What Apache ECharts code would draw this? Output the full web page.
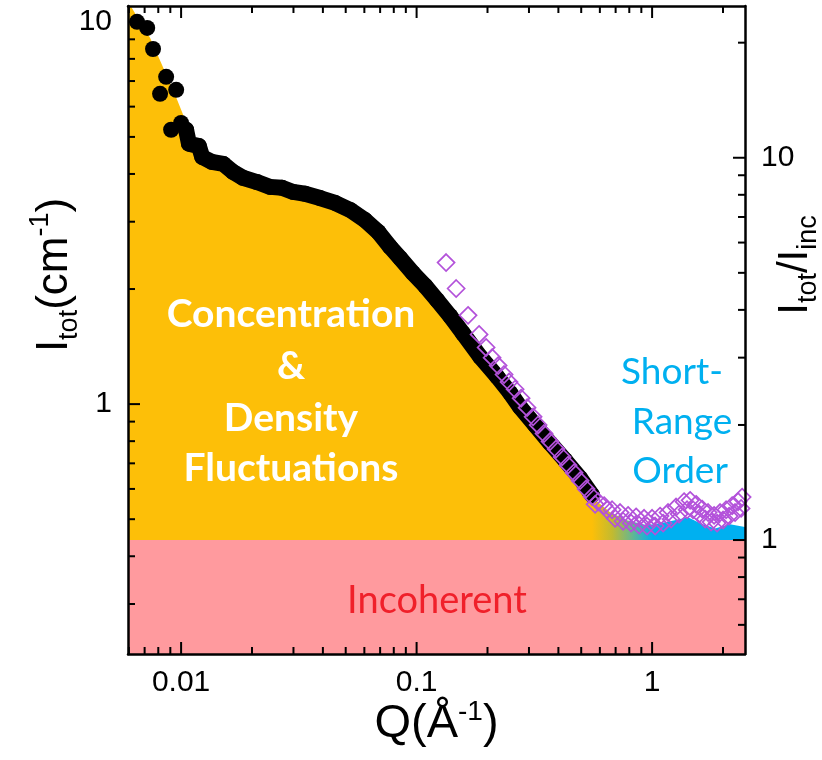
<!DOCTYPE html>
<html><head><meta charset="utf-8">
<script src="https://cdn.jsdelivr.net/npm/echarts@6/dist/echarts.min.js"></script>
<style>html,body{margin:0;padding:0;background:#fff}#c{width:822px;height:760px}</style>
</head><body><div id="c"></div>
<script>
// ---- data ----
const qTot = [0.0065,0.00718,0.0076,0.00814,0.00864,0.00907,0.00953,0.0100,0.0105,0.0108,0.0119,0.0123,0.0135,0.0151,0.0166,0.0183,0.0210,0.0239,0.0268,0.0299,0.0336,0.0389,0.0451,0.0522,0.0604,0.0687,0.0771,0.0851,0.0966,0.1086,0.1222,0.1387,0.1575,0.1862,0.2198,0.2494,0.2750,0.3186,0.3687,0.4273,0.4946,0.556];
const iTot = [10.0,9.64,8.49,6.48,7.18,5.22,6.64,5.44,5.22,4.80,4.73,4.43,4.30,4.25,4.05,3.91,3.81,3.70,3.68,3.59,3.55,3.46,3.36,3.22,3.03,2.82,2.58,2.41,2.20,2.04,1.87,1.70,1.53,1.33,1.18,1.07,0.982,0.881,0.791,0.713,0.640,0.578];

const qFill = [0.00595,0.00670,0.00738,0.00830,0.00944,0.0102,0.0109,0.0120,0.0140,0.0178,0.0239,0.0320,0.0451,0.0604,0.0771,0.122,0.186,0.275,0.427,0.556,0.663,0.783,0.952,1.08,1.25,1.42,1.60,1.85,2.14,2.48];
const iFill = [11.3,10.0,9.08,7.71,6.44,5.71,5.06,4.62,4.30,3.95,3.70,3.57,3.36,3.03,2.58,1.87,1.33,0.982,0.713,0.571,0.521,0.497,0.482,0.488,0.497,0.506,0.488,0.473,0.485,0.477];

const qRatio = [0.1334,0.1472,0.1654,0.1842,0.1973,0.2092,0.2219,0.2352,0.2470,0.2620,0.2778,0.2945,0.3124,0.3281,0.3477,0.3688,0.3912,0.4148,0.4397,0.4664,0.4946,0.5245,0.5562,0.5898,0.6254,0.6762,0.7312,0.7907,0.8551,0.9247,1.000,1.081,1.169,1.264,1.367,1.450,1.538,1.631,1.729,1.833,1.944,2.062,2.187,2.318,2.411,
  0.5728,0.644,0.6965,0.7530,0.8143,0.8806,0.952,1.030,1.114,1.204,1.302,1.408,1.493,1.584,1.680,1.780,1.888,2.002,2.123,2.251,2.387];
const rRatio = [5.32,4.55,3.87,3.45,3.19,3.00,2.86,2.71,2.59,2.48,2.35,2.22,2.10,2.00,1.90,1.81,1.73,1.65,1.57,1.50,1.43,1.36,1.30,1.26,1.23,1.20,1.18,1.16,1.15,1.14,1.14,1.155,1.18,1.22,1.26,1.27,1.24,1.205,1.18,1.16,1.18,1.20,1.23,1.26,1.295,
  1.24,1.20,1.14,1.12,1.107,1.094,1.088,1.088,1.107,1.134,1.169,1.20,1.20,1.169,1.134,1.114,1.107,1.128,1.155,1.18,1.21];

const incoherentLevel = 0.441;
const xRange = [0.00595, 2.48];
const yRange = [0.222, 11.0];
const y2Range = [yRange[0] / incoherentLevel, yRange[1] / incoherentLevel];

const xTickValues = [0.01, 0.1, 1];
const xTickLabels = ['0.01', '0.1', '1'];
const yTickValues = [1, 10];
const yTickLabels = ['1', '10'];
const y2TickValues = [1, 10];
const y2TickLabels = ['1', '10'];

// ---- helpers ----
function labelFor(values, labels) {
  return function (v) {
    for (let i = 0; i < values.length; i++) {
      if (Math.abs(v - values[i]) / values[i] < 1e-6) return labels[i];
    }
    return '';
  };
}
function logTicks(lo, hi) {
  const out = [];
  for (let e = -4; e <= 3; e++) {
    for (let m = 1; m <= 9; m++) {
      const v = parseFloat((m * Math.pow(10, e)).toPrecision(6));
      if (v > lo * 1.0005 && v < hi / 1.0005) out.push([v, m === 1 ? 1 : 0]);
    }
  }
  return out;
}
const MAJ = 12, MIN = 7, TW = 2;
const tickStyle = { stroke: '#000', lineWidth: TW };

const chart = echarts.init(document.getElementById('c'), null, { renderer: 'canvas' });
const font = 'Liberation Sans';

chart.setOption({
  animation: false,
  backgroundColor: '#fff',
  grid: { left: 128, top: 6, right: 77, bottom: 106, containLabel: false, outerBoundsMode: 'none' },
  xAxis: [{
    type: 'log', min: xRange[0], max: xRange[1], position: 'bottom', z: 10,
    axisLine: { show: true, lineStyle: { color: '#000', width: 2.5 } },
    axisTick: { show: false }, splitLine: { show: false }, minorTick: { show: false },
    axisLabel: { formatter: labelFor(xTickValues, xTickLabels), fontSize: 30, color: '#000', fontFamily: font, margin: 14, showMinLabel: false, showMaxLabel: false },
    name: 'Q(Å{p|-1})', nameLocation: 'middle', nameGap: 44, nameMoveOverlap: false,
    nameTextStyle: { fontSize: 47, fontFamily: font, color: '#000', lineHeight: 52,
      rich: { p: { fontSize: 28, fontFamily: font, color: '#000', verticalAlign: 'top', lineHeight: 27 } } }
  }, {
    type: 'log', min: xRange[0], max: xRange[1], position: 'top', z: 10,
    axisLine: { show: true, lineStyle: { color: '#000', width: 2.5 } },
    axisTick: { show: false }, axisLabel: { show: false }, splitLine: { show: false }
  }],
  yAxis: [{
    type: 'log', min: yRange[0], max: yRange[1], position: 'left', z: 10,
    axisLine: { show: true, lineStyle: { color: '#000', width: 2.5 } },
    axisTick: { show: false }, splitLine: { show: false },
    axisLabel: { formatter: labelFor(yTickValues, yTickLabels), fontSize: 30, color: '#000', fontFamily: font, margin: 16, showMinLabel: false, showMaxLabel: false },
    name: '{m|I}{s|tot}{m|(cm}{p|-1}{m|)}', nameLocation: 'middle', nameRotate: 90, nameGap: 45, nameMoveOverlap: false,
    nameTextStyle: { padding: [0, 0, 0, 110], rich: {
      m: { fontSize: 44, fontFamily: font, color: '#000', lineHeight: 56 },
      s: { fontSize: 27, fontFamily: font, color: '#000', lineHeight: 27, verticalAlign: 'bottom' },
      p: { fontSize: 27, fontFamily: font, color: '#000', lineHeight: 27, verticalAlign: 'top' } } }
  }, {
    type: 'log', min: y2Range[0], max: y2Range[1], position: 'right', z: 10,
    axisLine: { show: true, lineStyle: { color: '#000', width: 2.5 } },
    axisTick: { show: false }, splitLine: { show: false },
    axisLabel: { formatter: labelFor(y2TickValues, y2TickLabels), fontSize: 30, color: '#000', fontFamily: font, margin: 16, showMinLabel: false, showMaxLabel: false },
    name: '{m|I}{s|tot}{m|/I}{s|inc}', nameLocation: 'middle', nameRotate: 90, nameGap: 23, nameMoveOverlap: false,
    nameTextStyle: { padding: [0, 0, 0, 130], rich: {
      m: { fontSize: 42, fontFamily: font, color: '#000', lineHeight: 54 },
      s: { fontSize: 27, fontFamily: font, color: '#000', lineHeight: 27, verticalAlign: 'bottom' } } }
  }],
  series: [
    { // coherent fill under the curve
      type: 'line', xAxisIndex: 0, yAxisIndex: 0, z: 2, silent: true,
      data: qFill.map((q, i) => [q, iFill[i]]), symbol: 'none',
      lineStyle: { width: 0, opacity: 0 },
      areaStyle: { origin: 'start', opacity: 1, color: { type: 'linear', x: 0, y: 0, x2: 1, y2: 0, colorStops: [
        { offset: 0, color: '#FDBF08' }, { offset: 0.752, color: '#FDBF08' }, { offset: 0.785, color: '#C2BA30' },
        { offset: 0.815, color: '#6CB78A' }, { offset: 0.85, color: '#00B0F0' }, { offset: 1, color: '#00B0F0' } ] } }
    },
    { // incoherent band
      type: 'line', xAxisIndex: 0, yAxisIndex: 0, z: 3, silent: true,
      data: [[xRange[0], incoherentLevel], [xRange[1], incoherentLevel]], symbol: 'none',
      lineStyle: { width: 0, opacity: 0 },
      areaStyle: { origin: 'start', opacity: 1, color: '#FF9A9E' }
    },
    { // dense part joined
      type: 'line', xAxisIndex: 0, yAxisIndex: 0, z: 4, silent: true,
      data: qTot.slice(8).map((q, i) => [q, iTot[i + 8]]), symbol: 'none',
      lineStyle: { color: '#000', width: 16, cap: 'round', join: 'round' }
    },
    {
      type: 'scatter', xAxisIndex: 0, yAxisIndex: 0, z: 5,
      data: qTot.map((q, i) => [q, iTot[i]]), symbol: 'circle', symbolSize: 16,
      itemStyle: { color: '#000', opacity: 1 }
    },
    {
      type: 'scatter', xAxisIndex: 0, yAxisIndex: 1, z: 6,
      data: qRatio.map((q, i) => [q, rRatio[i]]), symbol: 'diamond', symbolSize: 17,
      itemStyle: { color: 'rgba(0,0,0,0)', borderColor: '#B352DA', borderWidth: 1.7, opacity: 1 }
    },
    { // x ticks (bottom + top)
      type: 'custom', xAxisIndex: 0, yAxisIndex: 0, z: 20, silent: true,
      data: logTicks(xRange[0], xRange[1]).map(t => [t[0], yRange[0], t[1]]),
      encode: { x: 0, y: 1 },
      renderItem: function (params, api) {
        const cs = params.coordSys;
        const x = api.coord([api.value(0), api.value(1)])[0];
        const len = api.value(2) ? MAJ : MIN;
        const b = cs.y + cs.height, t = cs.y;
        return { type: 'group', children: [
          { type: 'line', shape: { x1: x, y1: b, x2: x, y2: b - len }, style: tickStyle },
          { type: 'line', shape: { x1: x, y1: t, x2: x, y2: t + len }, style: tickStyle } ] };
      }
    },
    { // left y ticks
      type: 'custom', xAxisIndex: 0, yAxisIndex: 0, z: 20, silent: true,
      data: logTicks(yRange[0], yRange[1]).map(t => [xRange[0], t[0], t[1]]),
      encode: { x: 0, y: 1 },
      renderItem: function (params, api) {
        const cs = params.coordSys;
        const y = api.coord([api.value(0), api.value(1)])[1];
        const len = api.value(2) ? MAJ : MIN;
        return { type: 'line', shape: { x1: cs.x, y1: y, x2: cs.x + len, y2: y }, style: tickStyle };
      }
    },
    { // right y ticks
      type: 'custom', xAxisIndex: 0, yAxisIndex: 1, z: 20, silent: true,
      data: logTicks(y2Range[0], y2Range[1]).map(t => [xRange[0], t[0], t[1]]),
      encode: { x: 0, y: 1 },
      renderItem: function (params, api) {
        const cs = params.coordSys;
        const y = api.coord([api.value(0), api.value(1)])[1];
        const len = api.value(2) ? MAJ : MIN;
        const r = cs.x + cs.width;
        return { type: 'line', shape: { x1: r, y1: y, x2: r - len, y2: y }, style: tickStyle };
      }
    }
  ],
  graphic: [
    { type: 'text', x: 291, y: 314, z: 100, style: { text: 'Concentration', font: 'bold 39px Lato', fill: '#fff', align: 'center', verticalAlign: 'middle' } },
    { type: 'text', x: 291, y: 366, z: 100, style: { text: '&', font: 'bold 39px Lato', fill: '#fff', align: 'center', verticalAlign: 'middle' } },
    { type: 'text', x: 291, y: 418, z: 100, style: { text: 'Density', font: 'bold 39px Lato', fill: '#fff', align: 'center', verticalAlign: 'middle' } },
    { type: 'text', x: 291, y: 468, z: 100, style: { text: 'Fluctuations', font: 'bold 39px Lato', fill: '#fff', align: 'center', verticalAlign: 'middle' } },
    { type: 'text', x: 672, y: 372, z: 100, style: { text: 'Short-', font: '37px Lato', fill: '#00B0F0', align: 'center', verticalAlign: 'middle' } },
    { type: 'text', x: 682, y: 422, z: 100, style: { text: 'Range', font: '37px Lato', fill: '#00B0F0', align: 'center', verticalAlign: 'middle' } },
    { type: 'text', x: 680, y: 471, z: 100, style: { text: 'Order', font: '37px Lato', fill: '#00B0F0', align: 'center', verticalAlign: 'middle' } },
    { type: 'text', x: 437, y: 601, z: 100, style: { text: 'Incoherent', font: '38px Lato', fill: '#F0202A', align: 'center', verticalAlign: 'middle' } }
  ]
});
</script></body></html>
